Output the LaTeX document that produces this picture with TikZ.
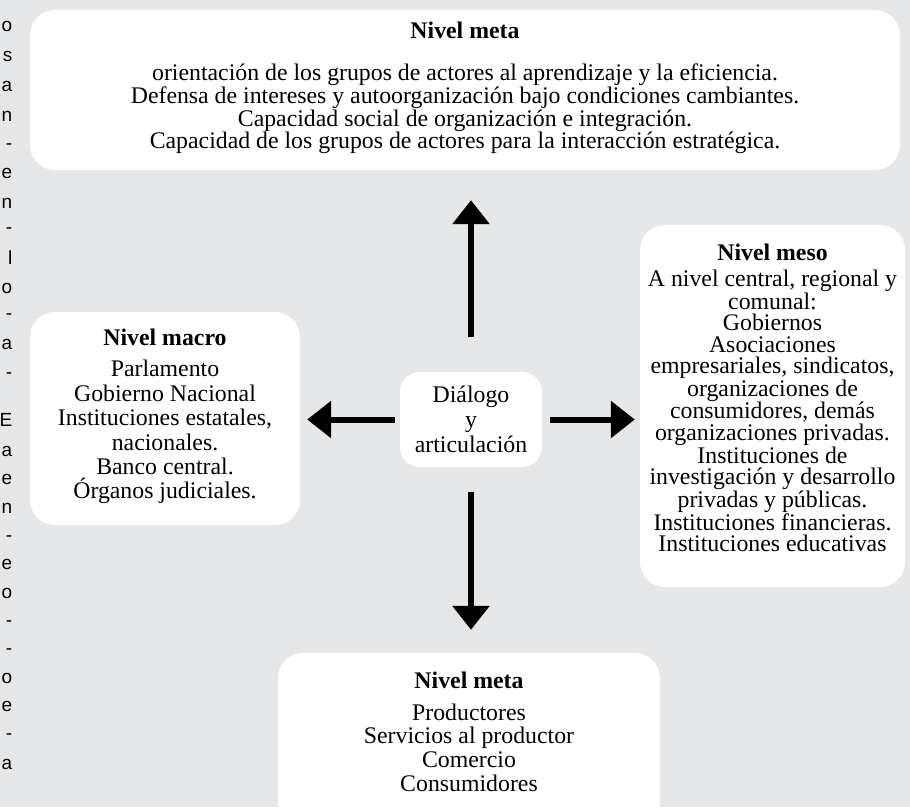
\documentclass[tikz,border=0pt]{standalone}
\usepackage{fontspec}
\setmainfont{Liberation Serif}
\newfontfamily\margenfont{Liberation Sans}
\usetikzlibrary{arrows.meta,positioning}
\definecolor{fondo}{RGB}{230,231,232}

\begin{document}
\begin{tikzpicture}
  [x=1pt,y=-1pt,
   caja/.style={rectangle,rounded corners=25pt,fill=white,inner sep=0pt},
   texto/.style={align=center,inner sep=0pt},
   flecha/.style={line width=6pt,-{Triangle[length=24pt,width=36pt]}},
   margen/.style={anchor=base east,inner sep=0pt,font=\margenfont\fontsize{19}{19}\selectfont}]
  \useasboundingbox (0,0) rectangle (910,807);
  \clip (0,0) rectangle (910,807);
  \fill[fondo] (0,0) rectangle (910,807);

  % restos de la columna vecina
  \foreach \y/\l in {25/o,55/s,85/a,115/n,143/-,172/e,202/n,227/-,258/l,287/o,
                     313/-,343/a,372/-,420/E,450/a,478/e,507/n,535/-,563/e,
                     592/o,620/-,648/-,677/o,705/e,733/-,763/a}
    \node[margen] (m\y) at (12.5,\y+6) {\l};

  % cajas
  \node[caja,minimum width=870pt,minimum height=160pt] (metaA) at (465,90) {};
  \node[caja,minimum width=270pt,minimum height=213pt] (macro) at (165,418.5) {};
  \node[caja,minimum width=265pt,minimum height=362pt] (meso) at (772.5,406) {};
  \node[caja,minimum width=382pt,minimum height=187pt] (metaB) at (469,746.5) {};
  \node[caja,texto,minimum width=142pt,minimum height=95pt,rounded corners=20pt,
        font=\fontsize{23.8}{25}\selectfont] (dialogo) at (471,419.5)
        {Diálogo\\y\\articulación};

  % textos
  \node[texto,below=12pt of metaA.north,font=\fontsize{23.8}{21}\selectfont] (metaAtxt)
    {\textbf{Nivel meta}\\[21pt]
     orientación de los grupos de actores al aprendizaje y la eficiencia.\\
     Defensa de intereses y autoorganización bajo condiciones cambiantes.\\
     Capacidad social de organización e integración.\\
     Capacidad de los grupos de actores para la interacción estratégica.};
  \node[texto,below=17pt of macro.north,font=\fontsize{23.8}{24.4}\selectfont] (macrotxt)
    {\textbf{Nivel macro}\\[7pt]
     Parlamento\\ Gobierno Nacional\\ Instituciones estatales,\\ nacionales.\\
     Banco central.\\ Órganos judiciales.};
  \node[texto,below=19pt of meso.north,font=\fontsize{23.8}{21.5}\selectfont] (mesotxt)
    {\textbf{Nivel meso}\\[4.5pt]
     A nivel central, regional y\\ comunal:\\ Gobiernos\\ Asociaciones\\
     empresariales, sindicatos,\\ organizaciones de\\ consumidores, demás\\
     organizaciones privadas.\\ Instituciones de\\ investigación y desarrollo\\
     privadas y públicas.\\ Instituciones financieras.\\ Instituciones educativas};
  \node[texto,below=19pt of metaB.north,font=\fontsize{23.8}{23.7}\selectfont] (metaBtxt)
    {\textbf{Nivel meta}\\[8pt]
     Productores\\ Servicios al productor\\ Comercio\\ Consumidores};

  % flechas
  \draw[flecha,shorten <=35pt,shorten >=30pt] (dialogo.north) -- (dialogo.north |- metaA.south);
  \draw[flecha,shorten <=25pt,shorten >=23pt] (dialogo.south) -- (dialogo.south |- metaB.north);
  \draw[flecha,shorten <=5pt,shorten >=7pt] (dialogo.west) -- (dialogo.west -| macro.east);
  \draw[flecha,shorten <=8pt,shorten >=5pt] (dialogo.east) -- (dialogo.east -| meso.west);

\end{tikzpicture}
\end{document}
